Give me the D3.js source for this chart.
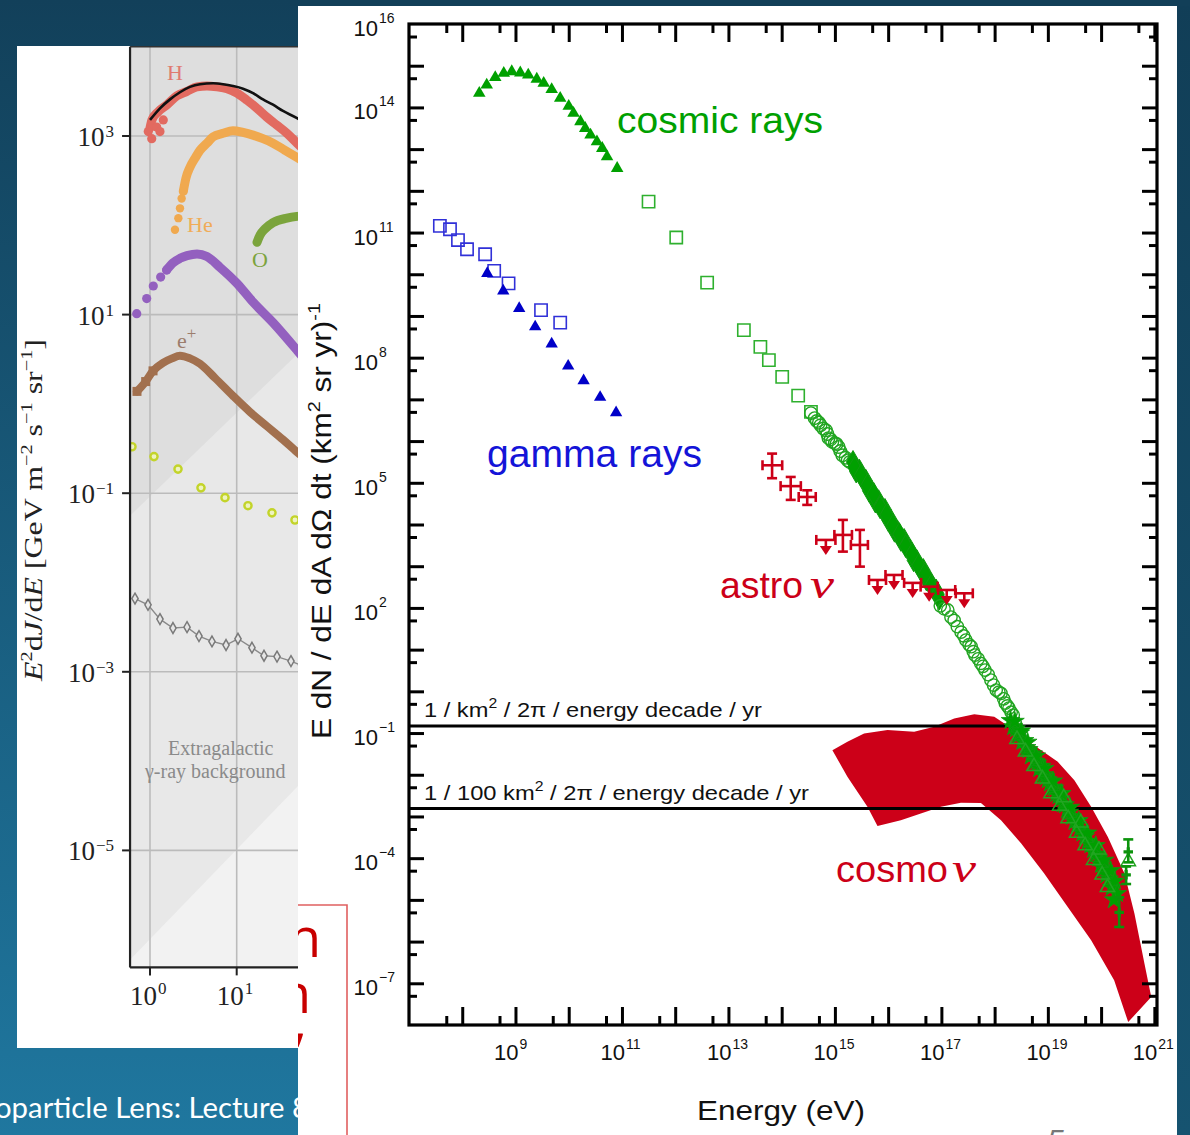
<!DOCTYPE html>
<html><head><meta charset="utf-8">
<script src="https://cdn.jsdelivr.net/npm/d3@7/dist/d3.min.js"></script>
<style>html,body{margin:0;padding:0;overflow:hidden;background:#12405a}svg{display:block}</style>
</head><body>
<svg id="chart" width="1190" height="1135"></svg>
<script>
// ================= MAIN CHART DATA: [log10 E (eV), log10 flux] =================
const crTriangles = [[8.32,14.34],[8.46,14.54],[8.62,14.72],[8.78,14.82],[8.93,14.86],[9.09,14.83],[9.24,14.78],[9.40,14.68],[9.53,14.58],[9.68,14.43],[9.84,14.22],[10.00,14.03],[10.09,13.86],[10.22,13.66],[10.31,13.50],[10.41,13.34],[10.53,13.18],[10.63,13.02],[10.72,12.82],[10.91,12.54]];
const crSquares = [[11.50,11.74],[12.02,10.88],[12.60,9.80],[13.29,8.66],[13.60,8.26],[13.76,7.94],[14.01,7.54],[14.31,7.09],[14.55,6.70]];
const crCircles1 = [[14.55,6.67],[14.62,6.55],[14.66,6.48],[14.70,6.44],[14.73,6.38],[14.78,6.30],[14.83,6.26],[14.86,6.17],[14.88,6.07],[14.92,6.04],[14.95,5.98],[15.00,5.95],[15.03,5.93],[15.07,5.86],[15.10,5.76],[15.14,5.66],[15.20,5.60],[15.24,5.54],[15.28,5.50]];
const crFilled = [[15.34,5.50],[15.40,5.27],[15.46,5.29],[15.52,5.10],[15.58,5.05],[15.64,4.81],[15.70,4.78],[15.76,4.55],[15.82,4.56],[15.88,4.39],[15.94,4.35],[16.00,4.11],[16.06,4.08],[16.12,3.85],[16.18,3.82],[16.24,3.63],[16.30,3.63],[16.36,3.44],[16.42,3.37],[16.48,3.14],[16.54,3.12],[16.60,2.94],[16.66,2.91],[16.72,2.68],[16.78,2.64],[16.84,2.49],[16.90,2.42],[16.96,2.22],
  [15.37,5.36],[15.49,5.18],[15.61,4.94],[15.73,4.73],[15.85,4.41],[15.97,4.23],[16.09,3.97],[16.21,3.77],[16.33,3.48],[16.45,3.29],[16.57,3.02],[16.69,2.81],[16.81,2.53],[16.93,2.33]];
const crCircles2 = [[16.98,2.05],[17.05,1.98],[17.12,1.95],[17.18,1.78],[17.24,1.70],[17.30,1.55],[17.37,1.42],[17.42,1.33],[17.46,1.23],[17.52,1.12],[17.56,1.07],[17.60,0.95],[17.63,0.87],[17.69,0.78],[17.74,0.67],[17.78,0.60],[17.82,0.51],[17.88,0.40],[17.93,0.27],[17.98,0.15],[18.03,0.03],[18.08,-0.02],[18.12,-0.05],[18.17,-0.18],[18.20,-0.28],[18.24,-0.35],[18.27,-0.40],[18.31,-0.50],[18.35,-0.57]];
const crUHEstars = [[18.30,-0.70],[18.35,-0.85],[18.40,-0.90],[18.44,-1.05],[18.48,-1.00],[18.52,-1.20],[18.56,-1.18],[18.60,-1.35],[18.64,-1.40],[18.68,-1.55],[18.72,-1.50],[18.76,-1.68],[18.80,-1.72],[18.84,-1.85],[18.88,-1.80],[18.92,-2.00],[18.96,-2.05],[19.00,-2.12],[19.04,-2.20],[19.08,-2.30],[19.12,-2.32],[19.16,-2.45],[19.20,-2.50],[19.24,-2.58],[19.28,-2.70],[19.32,-2.72],[19.36,-2.85],[19.40,-2.90],[19.45,-3.00],[19.50,-3.12],[19.55,-3.20],[19.60,-3.30],[19.65,-3.40],[19.70,-3.48],[19.75,-3.60],[19.80,-3.68],[19.85,-3.80],[19.90,-3.90],[19.95,-4.00],[20.00,-4.15],[20.05,-4.25],[20.10,-4.40],[20.15,-4.50],[20.20,-4.70],
  [18.38,-0.72],[18.50,-0.95],[18.62,-1.22],[18.78,-1.55],[18.94,-1.85],[19.10,-2.15],[19.26,-2.45],[19.42,-2.78],[19.58,-3.10],[19.74,-3.40],[19.90,-3.70],[20.06,-4.05],[20.18,-4.30],[20.26,-4.55],[20.30,-4.85],[20.24,-5.00]];
const crUHEtriangles = [[18.42,-1.15],[18.58,-1.45],[18.74,-1.80],[18.90,-2.10],[19.06,-2.45],[19.22,-2.75],[19.38,-3.05],[19.54,-3.40],[19.70,-3.70],[19.86,-4.05],[20.02,-4.40],[20.12,-4.70],[20.51,-4.08],[19.30,-2.55],[19.62,-3.15],[19.96,-3.80]];
// [E, F, Flow, Fhigh]
const crUHEerrors = [[20.51,-3.85,-4.10,-3.55],[20.34,-5.30,-5.65,-4.94],[20.47,-4.40,-4.62,-4.20]];
const gammaSquares = [[7.58,11.16],[7.77,11.08],[7.92,10.82],[8.09,10.60],[8.43,10.48],[8.60,10.08],[8.87,9.78],[9.48,9.14],[9.84,8.84]];
const gammaTriangles = [[8.47,10.02],[8.77,9.60],[9.07,9.18],[9.37,8.74],[9.68,8.33],[9.99,7.80],[10.28,7.45],[10.59,7.05],[10.89,6.68]];
// [E, F, Elow, Ehigh, Flow, Fhigh]
const astroPoints = [[13.82,5.42,13.64,14.01,5.11,5.70],[14.17,4.92,13.98,14.36,4.59,5.14],[14.48,4.66,14.32,14.64,4.47,4.82],[15.15,3.75,14.99,15.32,3.35,4.11],[15.47,3.51,15.30,15.62,2.99,3.87]];
// [E, F(upper limit), Elow, Ehigh]
const astroLimits = [[14.83,3.63,14.65,15.01],[15.80,2.67,15.64,15.96],[16.11,2.79,15.95,16.27],[16.46,2.60,16.30,16.62],[16.77,2.51,16.61,16.93],[17.10,2.43,16.94,17.26],[17.43,2.35,17.27,17.59]];
const cosmoBand = [[14.953,-1.41],[15.235,-1.21],[15.548,-1.01],[15.988,-0.93],[16.488,-0.97],[16.865,-0.85],[17.241,-0.65],[17.617,-0.55],[17.993,-0.61],[18.370,-0.93],[18.740,-1.29],[19.186,-1.69],[19.498,-2.13],[19.813,-2.77],[20.127,-3.49],[20.439,-4.37],[20.627,-5.33],[20.815,-6.53],[20.942,-7.33],[20.509,-7.93],[20.245,-6.93],[19.813,-5.97],[19.380,-5.18],[18.928,-4.36],[18.496,-3.64],[18.120,-3.09],[17.743,-2.68],[17.367,-2.67],[16.991,-2.77],[16.614,-2.93],[16.238,-3.09],[15.800,-3.23],[15.611,-2.77],[15.235,-2.05]];
const sensValues = [-0.83, -2.81];
const sensLabels = [["1 / km","2"," / 2\u03c0 / energy decade / yr"],["1 / 100 km","2"," / 2\u03c0 / energy decade / yr"]];
const xLabelExps = [9,11,13,15,17,19,21];
const yLabelExps = [16,14,11,8,5,2,-1,-4,-7];
const seriesLabels = [["cosmic rays",""],["gamma rays",""],["astro","\u03bd"],["cosmo","\u03bd"]];

// ================= LEFT (background slide) CHART DATA: [log10 E, log10 flux] =================
const leftH = [[0,3.09],[0.023,3.18],[0.092,3.27],[0.196,3.35],[0.311,3.45],[0.427,3.50],[0.542,3.55],[0.657,3.56],[0.773,3.55],[0.888,3.53],[1.003,3.48],[1.119,3.40],[1.234,3.31],[1.349,3.21],[1.465,3.12],[1.580,3.03],[1.696,2.92],[1.85,2.78]];
const leftHdots = [[-0.02,3.05],[0.02,2.97],[0.077,3.10],[0.115,3.05],[0.153,3.18]];
const leftBlack = [[0,3.18],[0.115,3.31],[0.231,3.41],[0.346,3.49],[0.461,3.55],[0.577,3.58],[0.727,3.59],[0.842,3.58],[0.957,3.56],[1.073,3.53],[1.188,3.48],[1.303,3.41],[1.419,3.35],[1.534,3.28],[1.696,3.20],[1.85,3.10]];
const leftHe = [[0.384,2.38],[0.415,2.53],[0.461,2.65],[0.519,2.75],[0.577,2.84],[0.657,2.92],[0.727,2.99],[0.842,3.03],[0.957,3.06],[1.073,3.04],[1.188,3.01],[1.303,2.97],[1.419,2.92],[1.557,2.84],[1.696,2.76],[1.85,2.66]];
const leftHedots = [[0.288,1.95],[0.327,2.08],[0.346,2.19],[0.365,2.30],[0.384,2.38]];
const leftO = [[1.234,1.81],[1.269,1.89],[1.326,1.96],[1.419,2.03],[1.580,2.08],[1.696,2.10],[1.85,2.11]];
const leftPurple = [[0.192,1.50],[0.265,1.58],[0.346,1.63],[0.427,1.66],[0.542,1.68],[0.657,1.65],[0.807,1.53],[1.003,1.35],[1.188,1.14],[1.419,0.91],[1.696,0.60],[1.85,0.42]];
const leftPurpleDots = [[-0.153,1.01],[-0.038,1.18],[0.038,1.32],[0.123,1.42],[0.192,1.50]];
const leftPositron = [[-0.150,0.14],[-0.05,0.25],[0.035,0.37],[0.150,0.46],[0.254,0.51],[0.346,0.54],[0.461,0.51],[0.577,0.45],[0.750,0.29],[0.957,0.09],[1.153,-0.09],[1.349,-0.25],[1.534,-0.40],[1.696,-0.54],[1.85,-0.66]];
const leftYellow = [[-0.208,-0.48],[0.046,-0.59],[0.323,-0.73],[0.588,-0.94],[0.865,-1.05],[1.130,-1.14],[1.407,-1.22],[1.672,-1.30]];
const leftGray = [[-0.173,-2.18],[-0.023,-2.25],[0.115,-2.41],[0.265,-2.51],[0.427,-2.50],[0.565,-2.60],[0.715,-2.66],[0.877,-2.70],[1.015,-2.63],[1.176,-2.73],[1.315,-2.82],[1.465,-2.83],[1.626,-2.88],[1.75,-2.93]];
const leftShadeLine1 = [[-0.23,-1.252],[2.3,1.12]];
const leftShadeLine2 = [[-0.23,-6.224],[2.3,-3.684]];
const leftYLabelExps = [3,1,-1,-3,-5];
const leftXLabelExps = [0,1];

// ================= DRAWING =================
const svg = d3.select('#chart');
const defs = svg.append('defs');
function vgrad(id,c0,c1){const g=defs.append('linearGradient').attr('id',id).attr('x1',0).attr('y1',0).attr('x2',0).attr('y2',1);g.append('stop').attr('offset',0).attr('stop-color',c0);g.append('stop').attr('offset',1).attr('stop-color',c1);}
vgrad('bgL','#12405a','#1f779f');
vgrad('bgR','#113e57','#165370');
svg.append('rect').attr('width',1190).attr('height',1135).attr('fill','url(#bgL)');
svg.append('rect').attr('x',1177).attr('width',13).attr('height',1135).attr('fill','url(#bgR)');
svg.append('rect').attr('x',290).attr('width',900).attr('height',6).attr('fill','#123f58');

// footer text
svg.append('text').attr('x',-5).attr('y',1118).attr('font-family','Lato, "Open Sans", sans-serif')
  .attr('font-size',28).attr('fill','#ffffff').attr('textLength',314).attr('lengthAdjust','spacingAndGlyphs')
  .text('oparticle Lens: Lecture 8');

// ---------- left chart ----------
svg.append('rect').attr('x',17).attr('y',46).attr('width',290).attr('height',1002).attr('fill','#ffffff');
const lx = d3.scaleLinear().domain([0,1]).range([150,236.7]);
const ly = d3.scaleLinear().domain([3,1]).range([136,314.6]);
const lE0=-0.23, lE1=2.3, lF0=4.0, lF1=-6.31;
defs.append('clipPath').attr('id','lclip').append('rect')
  .attr('x',lx(lE0)).attr('y',ly(lF0)).attr('width',lx(lE1)-lx(lE0)).attr('height',ly(lF1)-ly(lF0));
const L = svg.append('g');
const Lp = L.append('g').attr('clip-path','url(#lclip)');
Lp.append('rect').attr('x',lx(lE0)).attr('y',ly(lF0)).attr('width',lx(lE1)-lx(lE0)).attr('height',ly(lF1)-ly(lF0)).attr('fill','#dedede');
const poly = pts => 'M'+pts.map(p=>lx(p[0])+','+ly(p[1])).join('L')+'Z';
Lp.append('path').attr('fill','#e8e8e8').attr('d',poly([leftShadeLine1[0],leftShadeLine1[1],[lE1,lF1],[lE0,lF1]]));
Lp.append('path').attr('fill','#f2f2f2').attr('d',poly([leftShadeLine2[0],leftShadeLine2[1],[lE1,lF1],[lE0,lF1]]));
// grid
leftXLabelExps.forEach(e=>Lp.append('line').attr('x1',lx(e)).attr('x2',lx(e)).attr('y1',ly(lF0)).attr('y2',ly(lF1)).attr('stroke','#bbbbbb').attr('stroke-width',1.6));
leftYLabelExps.forEach(e=>Lp.append('line').attr('x1',lx(lE0)).attr('x2',lx(lE1)).attr('y1',ly(e)).attr('y2',ly(e)).attr('stroke','#bbbbbb').attr('stroke-width',1.6));
const lline = d3.line().x(d=>lx(d[0])).y(d=>ly(d[1])).curve(d3.curveMonotoneX);
function thick(data,color,w){Lp.append('path').attr('d',lline(data)).attr('fill','none').attr('stroke',color).attr('stroke-width',w).attr('stroke-linecap','round');}
function dots(data,color,r){Lp.selectAll(null).data(data).enter().append('circle').attr('cx',d=>lx(d[0])).attr('cy',d=>ly(d[1])).attr('r',r).attr('fill',color);}
// gray diamonds
Lp.append('path').attr('d',d3.line().x(d=>lx(d[0])).y(d=>ly(d[1]))(leftGray)).attr('fill','none').attr('stroke','#8a8a8a').attr('stroke-width',1.4);
Lp.selectAll(null).data(leftGray).enter().append('path').attr('d',d3.symbol().type(d3.symbolDiamond).size(34)())
  .attr('transform',d=>`translate(${lx(d[0])},${ly(d[1])})`).attr('fill','#e6e6e6').attr('stroke','#7a7a7a').attr('stroke-width',1.5);
// yellow circles
Lp.selectAll(null).data(leftYellow).enter().append('circle').attr('cx',d=>lx(d[0])).attr('cy',d=>ly(d[1])).attr('r',3.6)
  .attr('fill','#eef3c0').attr('stroke','#c3d42a').attr('stroke-width',2.4);
// positron squares
thick(leftPositron,'#a2704e',8);
Lp.selectAll(null).data(leftPositron.slice(0,3)).enter().append('rect').attr('x',d=>lx(d[0])-4.5).attr('y',d=>ly(d[1])-4.5).attr('width',9).attr('height',9).attr('fill','#a2704e');
// purple
thick(leftPurple,'#9360bf',9); dots(leftPurpleDots,'#9360bf',4.6);
// O
thick(leftO,'#7ba43c',9);
// He
thick(leftHe,'#f0a94f',9); dots(leftHedots,'#f0a94f',4.2);
// H
thick(leftH,'#e26a60',9); dots(leftHdots,'#e26a60',4.6);
// black model line
Lp.append('path').attr('d',lline(leftBlack)).attr('fill','none').attr('stroke','#111111').attr('stroke-width',2.6);
// series labels
const serif = '"Liberation Serif", "DejaVu Serif", serif';
L.append('text').attr('x',167).attr('y',80).attr('font-family',serif).attr('font-size',22).attr('fill','#e07a70').text('H');
L.append('text').attr('x',187).attr('y',232).attr('font-family',serif).attr('font-size',22).attr('fill','#f0ac58').text('He');
L.append('text').attr('x',252).attr('y',267).attr('font-family',serif).attr('font-size',22).attr('fill','#7ca33c').text('O');
const ep = L.append('text').attr('x',177).attr('y',348).attr('font-family',serif).attr('font-size',22).attr('fill','#9c7d6c');
ep.append('tspan').text('e'); ep.append('tspan').attr('dy',-9).attr('font-size',17).text('+');
L.append('text').attr('x',168).attr('y',755).attr('font-family',serif).attr('font-size',20).attr('fill','#8a8a8a').text('Extragalactic');
L.append('text').attr('x',145).attr('y',778).attr('font-family',serif).attr('font-size',20).attr('fill','#8a8a8a').text('\u03b3-ray background');
// axes frame
L.append('line').attr('x1',lx(lE0)).attr('x2',lx(lE0)).attr('y1',ly(lF0)).attr('y2',ly(lF1)).attr('stroke','#222').attr('stroke-width',2.2);
L.append('line').attr('x1',lx(lE0)).attr('x2',lx(lE1)).attr('y1',ly(lF1)).attr('y2',ly(lF1)).attr('stroke','#222').attr('stroke-width',2.2);
L.append('line').attr('x1',lx(lE0)).attr('x2',lx(lE1)).attr('y1',ly(lF0)).attr('y2',ly(lF0)).attr('stroke','#333').attr('stroke-width',1.5);
leftYLabelExps.forEach(e=>{
  L.append('line').attr('x1',lx(lE0)-8).attr('x2',lx(lE0)).attr('y1',ly(e)).attr('y2',ly(e)).attr('stroke','#222').attr('stroke-width',2);
  const s = L.append('text').attr('x',114).attr('y',ly(e)+1).attr('text-anchor','end').attr('font-family',serif).attr('font-size',17).attr('fill','#222').text(e<0?'\u2212'+(-e):String(e));
  const w = s.node().getComputedTextLength();
  L.append('text').attr('x',114-w-1).attr('y',ly(e)+10).attr('text-anchor','end').attr('font-family',serif).attr('font-size',27).attr('fill','#222').text('10');
});
leftXLabelExps.forEach(e=>{
  L.append('line').attr('x1',lx(e)).attr('x2',lx(e)).attr('y1',ly(lF1)).attr('y2',ly(lF1)+8).attr('stroke','#222').attr('stroke-width',2);
  L.append('text').attr('x',lx(e)+7).attr('y',1005).attr('text-anchor','end').attr('font-family',serif).attr('font-size',27).attr('fill','#222').text('10');
  L.append('text').attr('x',lx(e)+8).attr('y',994).attr('font-family',serif).attr('font-size',17).attr('fill','#222').text(String(e));
});
// left y title
const lyt = L.append('text').attr('transform','translate(42,510) rotate(-90)').attr('text-anchor','middle')
  .attr('font-family',serif).attr('font-size',25).attr('fill','#222').attr('textLength',342).attr('lengthAdjust','spacingAndGlyphs');
lyt.append('tspan').attr('font-style','italic').text('E');
lyt.append('tspan').attr('font-size',16).attr('dy',-10).text('2');
lyt.append('tspan').attr('dy',10).text('d');
lyt.append('tspan').attr('font-style','italic').text('J');
lyt.append('tspan').text('/d');
lyt.append('tspan').attr('font-style','italic').text('E');
lyt.append('tspan').text(' [GeV m');
lyt.append('tspan').attr('font-size',16).attr('dy',-10).text('\u22122');
lyt.append('tspan').attr('dy',10).text(' s');
lyt.append('tspan').attr('font-size',16).attr('dy',-10).text('\u22121');
lyt.append('tspan').attr('dy',10).text(' sr');
lyt.append('tspan').attr('font-size',16).attr('dy',-10).text('\u22121');
lyt.append('tspan').attr('dy',10).text(']');

// ---------- main panel ----------
svg.append('rect').attr('x',298).attr('y',6).attr('width',879).attr('height',1129).attr('fill','#ffffff');
const M = svg.append('g');
const x = d3.scaleLinear().domain([7,21.05]).range([409,1157]);
const y = d3.scaleLinear().domain([-8,16]).range([1025,24]);
defs.append('clipPath').attr('id','mclip').append('rect').attr('x',x(7)).attr('y',y(16)).attr('width',x(21.05)-x(7)).attr('height',y(-8)-y(16));
const P = M.append('g').attr('clip-path','url(#mclip)');
const GREEN='#00a000', BLUE='#0000c8', RED='#cc0018';
// cosmo band
P.append('path').attr('d','M'+cosmoBand.map(p=>x(p[0])+','+y(p[1])).join('L')+'Z').attr('fill',RED);
// sensitivity lines
sensValues.forEach(v=>P.append('line').attr('x1',x(7)).attr('x2',x(21.05)).attr('y1',y(v)).attr('y2',y(v)).attr('stroke','#000').attr('stroke-width',3));
const sym = (type,size)=>d3.symbol().type(type).size(size)();
function marks(data,type,size,fill,stroke,sw){
  P.selectAll(null).data(data).enter().append('path').attr('d',sym(type,size))
   .attr('transform',d=>`translate(${x(d[0])},${y(d[1])})`).attr('fill',fill).attr('stroke',stroke).attr('stroke-width',sw);
}
// gamma rays
marks(gammaSquares,d3.symbolSquare,150,'none','#3030d8',1.6);
marks(gammaTriangles,d3.symbolTriangle,66,BLUE,'none',0);
// cosmic rays
marks(crTriangles,d3.symbolTriangle,68,GREEN,'none',0);
marks(crSquares,d3.symbolSquare,150,'none','#2eb02e',1.6);
marks(crCircles1,d3.symbolCircle,125,'none','#22a522',1.4);
marks(crFilled,d3.symbolDiamond,150,GREEN,'#109a10',1);
marks(crCircles2,d3.symbolCircle,120,'none','#22a522',1.4);
marks(crUHEstars,d3.symbolStar,110,GREEN,'#119911',0.8);
marks(crUHEtriangles,d3.symbolTriangle,90,'none','#22a522',1.5);
crUHEerrors.forEach(d=>{
  const g=P.append('g').attr('stroke','#0c930c').attr('stroke-width',2.6);
  g.append('line').attr('x1',x(d[0])).attr('x2',x(d[0])).attr('y1',y(d[2])).attr('y2',y(d[3]));
  [d[2],d[3]].forEach(v=>g.append('line').attr('x1',x(d[0])-5).attr('x2',x(d[0])+5).attr('y1',y(v)).attr('y2',y(v)));
  P.append('path').attr('d',sym(d3.symbolCross,50)).attr('transform',`translate(${x(d[0])},${y(d[1])})`).attr('fill','#0c930c');
});
// astro nu
astroPoints.forEach(d=>{
  const g=P.append('g').attr('stroke',RED).attr('stroke-width',2.6);
  g.append('line').attr('x1',x(d[2])).attr('x2',x(d[3])).attr('y1',y(d[1])).attr('y2',y(d[1]));
  g.append('line').attr('x1',x(d[0])).attr('x2',x(d[0])).attr('y1',y(d[4])).attr('y2',y(d[5]));
  [d[2],d[3]].forEach(v=>g.append('line').attr('x1',x(v)).attr('x2',x(v)).attr('y1',y(d[1])-5).attr('y2',y(d[1])+5));
  [d[4],d[5]].forEach(v=>g.append('line').attr('x1',x(d[0])-5).attr('x2',x(d[0])+5).attr('y1',y(v)).attr('y2',y(v)));
});
astroLimits.forEach(d=>{
  const g=P.append('g').attr('stroke',RED).attr('stroke-width',2.6);
  g.append('line').attr('x1',x(d[2])).attr('x2',x(d[3])).attr('y1',y(d[1])).attr('y2',y(d[1]));
  [d[2],d[3]].forEach(v=>g.append('line').attr('x1',x(v)).attr('x2',x(v)).attr('y1',y(d[1])-5).attr('y2',y(d[1])+5));
  g.append('line').attr('x1',x(d[0])).attr('x2',x(d[0])).attr('y1',y(d[1])).attr('y2',y(d[1])+8);
  P.append('path').attr('d',`M${x(d[0])-6},${y(d[1])+6}L${x(d[0])+6},${y(d[1])+6}L${x(d[0])},${y(d[1])+15}Z`).attr('fill',RED);
});
// series text labels: [x, baseline, size, colour, length, nu x]
const sans = 'Arial, "Liberation Sans", Helvetica, sans-serif';
const nuFont = '"Liberation Serif", "DejaVu Serif", serif';
const labelPos = [[617,133,37,GREEN,206,0],[487,467,38,'#1414d8',215,0],[720,598,37,RED,83,810],[836,882,37,RED,112,952]];
seriesLabels.forEach((s,i)=>{
  const p=labelPos[i];
  M.append('text').attr('x',p[0]).attr('y',p[1]).attr('font-family',sans).attr('font-size',p[2]).attr('fill',p[3])
    .attr('textLength',p[4]).attr('lengthAdjust','spacingAndGlyphs').text(s[0]);
  if(s[1]) M.append('text').attr('x',p[5]).attr('y',p[1]).attr('font-family',nuFont).attr('font-style','italic')
    .attr('font-size',40).attr('fill',p[3]).attr('textLength',24).attr('lengthAdjust','spacingAndGlyphs').text(s[1]);
});
// sensitivity labels
const sensLen=[338,385];
sensLabels.forEach((s,i)=>{
  const t=M.append('text').attr('x',424).attr('y',y(sensValues[i])-9).attr('font-family',sans).attr('font-size',21).attr('fill','#111')
    .attr('textLength',sensLen[i]).attr('lengthAdjust','spacingAndGlyphs');
  t.append('tspan').text(s[0]);
  t.append('tspan').attr('dy',-9).attr('font-size',14).text(s[1]);
  t.append('tspan').attr('dy',9).text(s[2]);
});
// axes ticks
function tickAxis(axisFn, values, size, tr){
  const g=M.append('g').attr('transform',tr).call(axisFn.tickValues(values).tickSize(size).tickSizeOuter(0).tickFormat(''));
  g.select('.domain').remove();
  g.selectAll('.tick line').attr('stroke','#000').attr('stroke-width',3);
}
const xMajor=d3.range(8,22), xMinor=d3.range(8,22).map(n=>n-0.3);
const yMajor=d3.range(-7,16), yMinor=d3.range(-7,17).map(n=>n-0.3);
tickAxis(d3.axisBottom(x),xMajor,-18,`translate(0,${y(-8)})`);
tickAxis(d3.axisBottom(x),xMinor,-9,`translate(0,${y(-8)})`);
tickAxis(d3.axisTop(x),xMajor,-18,`translate(0,${y(16)})`);
tickAxis(d3.axisTop(x),xMinor,-9,`translate(0,${y(16)})`);
tickAxis(d3.axisLeft(y),yMajor,-15,`translate(${x(7)},0)`);
tickAxis(d3.axisLeft(y),yMinor,-8,`translate(${x(7)},0)`);
tickAxis(d3.axisRight(y),yMajor,-15,`translate(${x(21.05)},0)`);
tickAxis(d3.axisRight(y),yMinor,-8,`translate(${x(21.05)},0)`);
M.append('rect').attr('x',x(7)).attr('y',y(16)).attr('width',x(21.05)-x(7)).attr('height',y(-8)-y(16))
  .attr('fill','none').attr('stroke','#000').attr('stroke-width',3.2);
// tick labels
const supTxt = e => e<0 ? '\u2212'+(-e) : String(e);
yLabelExps.forEach(e=>{
  M.append('text').attr('x',378).attr('y',y(e)+12).attr('text-anchor','end').attr('font-family',sans).attr('font-size',22).attr('fill','#111').text('10');
  M.append('text').attr('x',379).attr('y',y(e)-1).attr('font-family',sans).attr('font-size',14).attr('fill','#111').text(supTxt(e));
});
xLabelExps.forEach(e=>{
  M.append('text').attr('x',x(e)+3).attr('y',1060).attr('text-anchor','end').attr('font-family',sans).attr('font-size',22).attr('fill','#111').text('10');
  M.append('text').attr('x',x(e)+4).attr('y',1049).attr('font-family',sans).attr('font-size',14).attr('fill','#111').text(supTxt(e));
});
// axis titles
M.append('text').attr('x',781).attr('y',1120).attr('text-anchor','middle').attr('font-family',sans).attr('font-size',28).attr('fill','#111')
  .attr('textLength',168).attr('lengthAdjust','spacingAndGlyphs').text('Energy (eV)');
const yt = M.append('text').attr('transform','translate(331,521) rotate(-90)').attr('text-anchor','middle').attr('font-family',sans)
  .attr('font-size',27).attr('fill','#111').attr('textLength',436).attr('lengthAdjust','spacingAndGlyphs');
yt.append('tspan').text('E dN / dE dA d\u03a9 dt (km');
yt.append('tspan').attr('dy',-11).attr('font-size',17).text('2');
yt.append('tspan').attr('dy',11).text(' sr yr)');
yt.append('tspan').attr('dy',-11).attr('font-size',17).text('-1');

// ---------- overlay pieces (red box and text fragments) ----------
defs.append('clipPath').attr('id','rclip').append('rect').attr('x',298).attr('y',880).attr('width',60).attr('height',255);
const R = svg.append('g').attr('clip-path','url(#rclip)');
R.append('path').attr('d','M298,905H347V1135').attr('fill','none').attr('stroke','#e06060').attr('stroke-width',1.6);
R.append('text').attr('x',288).attr('y',957).attr('font-family','"Open Sans", sans-serif').attr('font-size',54).attr('fill','#c80000').text('n');
R.append('text').attr('x',278).attr('y',1013).attr('font-family','"Open Sans", sans-serif').attr('font-size',54).attr('fill','#c80000').text('n');
R.append('text').attr('x',293).attr('y',1040).attr('font-family','"Open Sans", sans-serif').attr('font-size',54).attr('fill','#c80000').text(',');
svg.append('text').attr('x',1047).attr('y',1150).attr('font-family',sans).attr('font-style','italic').attr('font-size',30).attr('fill','#777').text('5');
</script>
</body></html>
